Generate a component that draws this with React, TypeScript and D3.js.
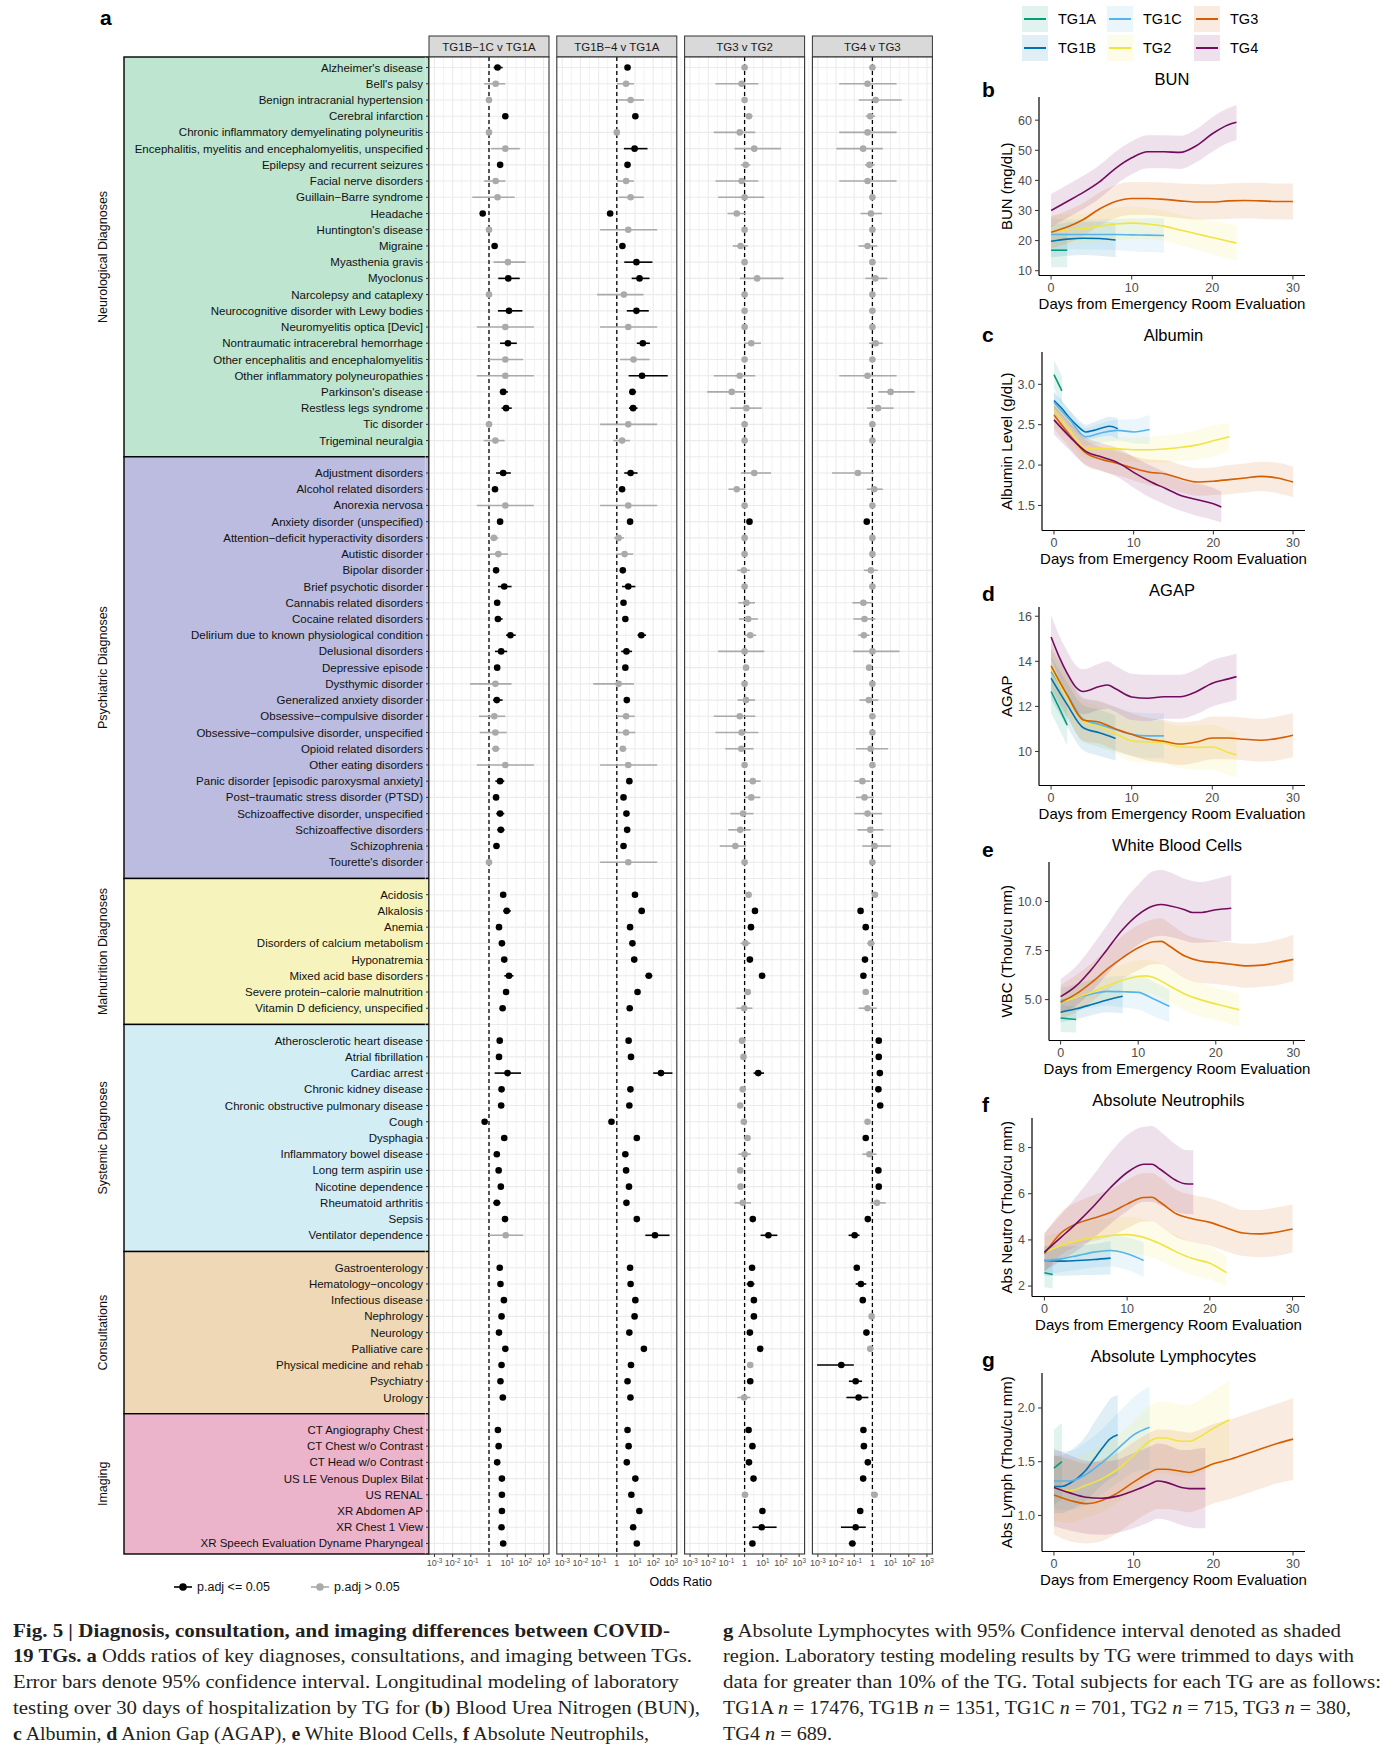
import * as d3 from 'd3';

const SANS = "'Liberation Sans', Arial, Helvetica, sans-serif";
const SERIF = "'Liberation Serif', 'Times New Roman', serif";

// ---------------- panel a: row labels per group ----------------
const neuroRows = [
  "Alzheimer's disease", "Bell's palsy", 'Benign intracranial hypertension', 'Cerebral infarction',
  'Chronic inflammatory demyelinating polyneuritis', 'Encephalitis, myelitis and encephalomyelitis, unspecified',
  'Epilepsy and recurrent seizures', 'Facial nerve disorders', 'Guillain−Barre syndrome', 'Headache',
  "Huntington's disease", 'Migraine', 'Myasthenia gravis', 'Myoclonus', 'Narcolepsy and cataplexy',
  'Neurocognitive disorder with Lewy bodies', 'Neuromyelitis optica [Devic]', 'Nontraumatic intracerebral hemorrhage',
  'Other encephalitis and encephalomyelitis', 'Other inflammatory polyneuropathies', "Parkinson's disease",
  'Restless legs syndrome', 'Tic disorder', 'Trigeminal neuralgia',
];
const psychRows = [
  'Adjustment disorders', 'Alcohol related disorders', 'Anorexia nervosa', 'Anxiety disorder (unspecified)',
  'Attention−deficit hyperactivity disorders', 'Autistic disorder', 'Bipolar disorder', 'Brief psychotic disorder',
  'Cannabis related disorders', 'Cocaine related disorders', 'Delirium due to known physiological condition',
  'Delusional disorders', 'Depressive episode', 'Dysthymic disorder', 'Generalized anxiety disorder',
  'Obsessive−compulsive disorder', 'Obsessive−compulsive disorder, unspecified', 'Opioid related disorders',
  'Other eating disorders', 'Panic disorder [episodic paroxysmal anxiety]', 'Post−traumatic stress disorder (PTSD)',
  'Schizoaffective disorder, unspecified', 'Schizoaffective disorders', 'Schizophrenia', "Tourette's disorder",
];
const malnutritionRows = [
  'Acidosis', 'Alkalosis', 'Anemia', 'Disorders of calcium metabolism', 'Hyponatremia',
  'Mixed acid base disorders', 'Severe protein−calorie malnutrition', 'Vitamin D deficiency, unspecified',
];
const systemicRows = [
  'Atherosclerotic heart disease', 'Atrial fibrillation', 'Cardiac arrest', 'Chronic kidney disease',
  'Chronic obstructive pulmonary disease', 'Cough', 'Dysphagia', 'Inflammatory bowel disease',
  'Long term aspirin use', 'Nicotine dependence', 'Rheumatoid arthritis', 'Sepsis', 'Ventilator dependence',
];
const consultRows = [
  'Gastroenterology', 'Hematology−oncology', 'Infectious disease', 'Nephrology', 'Neurology',
  'Palliative care', 'Physical medicine and rehab', 'Psychiatry', 'Urology',
];
const imagingRows = [
  'CT Angiography Chest', 'CT Chest w/o Contrast', 'CT Head w/o Contrast', 'US LE Venous Duplex Bilat',
  'US RENAL', 'XR Abdomen AP', 'XR Chest 1 View', 'XR Speech Evaluation Dyname Pharyngeal',
];

const groupNames = [
  'Neurological Diagnoses', 'Psychiatric Diagnoses', 'Malnutrition Diagnoses',
  'Systemic Diagnoses', 'Consultations', 'Imaging',
];
const groupFills = ['#bee5cf', '#bbbcdf', '#f6f4bc', '#d3edf5', '#eed8b5', '#ebb4cb'];
const groupRows = [neuroRows, psychRows, malnutritionRows, systemicRows, consultRows, imagingRows];

const comparisons = ['TG1B−1C v TG1A', 'TG1B−4 v TG1A', 'TG3 v TG2', 'TG4 v TG3'];

// odds ratio, CI low, CI high, significant (p.adj <= 0.05)
type OR = [number, number, number, number];

const orTG1BC: OR[] = [
  // neurological
  [2.95, 1.8, 5.6, 1], [2.34, 0.54, 7.9, 0], [1, 1, 1, 0], [7.9, 6, 10.5, 1], [1, 1, 1, 0],
  [7.9, 1.3, 49, 0], [4.1, 3.2, 5.2, 1], [2.34, 0.54, 7.9, 0], [2.95, 0.12, 25.7, 0], [0.45, 0.35, 0.58, 1],
  [1, 1, 1, 0], [2.04, 1.6, 2.6, 1], [11, 1.78, 105, 0], [11.5, 3.24, 49, 1], [1, 1, 1, 0],
  [12.6, 3.1, 69, 1], [7.9, 0.214, 295, 0], [11, 4.07, 33.9, 1], [7.9, 1, 76, 0], [7.9, 0.214, 295, 0],
  [6.03, 3.89, 11, 1], [8.7, 4.9, 17.8, 1], [1, 1, 1, 0], [2.24, 0.51, 7.24, 0],
  // psychiatric
  [6.03, 2.45, 15.8, 1], [2.14, 1.6, 2.8, 1], [7.9, 0.214, 295, 0], [4.07, 3.2, 5.2, 1], [1.86, 1.15, 3.24, 0],
  [3.24, 1.05, 11, 0], [2.45, 1.9, 3.1, 1], [6.9, 3.1, 17.4, 1], [2.82, 2.2, 3.6, 1], [3.1, 2.1, 5.6, 1],
  [15.1, 8.7, 29.5, 1], [4.68, 2.14, 10, 1], [2.82, 2.2, 3.6, 1], [2.24, 0.091, 17.4, 0], [2.69, 1.66, 5.6, 1],
  [1.95, 0.28, 7.9, 0], [2.24, 0.31, 9.5, 0], [2.34, 1.45, 3.89, 0], [7.9, 0.214, 295, 0], [4.07, 2.24, 6.9, 1],
  [2.45, 1.9, 3.1, 1], [4.07, 2.5, 6.9, 1], [4.47, 2.8, 7.2, 1], [2.57, 1.8, 3.7, 1], [1, 1, 1, 0],
  // malnutrition
  [6.03, 4.7, 7.7, 1], [9.5, 6, 15.8, 1], [3.55, 2.8, 4.5, 1], [5.13, 4, 6.6, 1], [6.9, 5.4, 8.9, 1],
  [12.6, 7, 22, 1], [8.7, 6.8, 11.2, 1], [5.6, 4.4, 7.2, 1],
  // systemic
  [3.89, 3, 5, 1], [3.55, 2.8, 4.5, 1], [10.5, 2.04, 57.5, 1], [4.9, 3.8, 6.3, 1], [4.68, 3.6, 6, 1],
  [0.575, 0.45, 0.74, 1], [6.9, 5.4, 8.9, 1], [2.69, 2.1, 3.45, 1], [3.39, 2.6, 4.3, 1], [4.47, 3.5, 5.7, 1],
  [2.69, 1.7, 4.3, 1], [7.6, 5.9, 9.7, 1], [8.3, 1, 76, 0],
  // consultations
  [3.89, 3, 5, 1], [4.27, 3.3, 5.5, 1], [6.6, 5.1, 8.5, 1], [4.9, 3.8, 6.3, 1], [3.55, 2.8, 4.5, 1],
  [7.9, 6.2, 10.2, 1], [4.9, 3.8, 6.3, 1], [4.27, 3.3, 5.5, 1], [5.75, 4, 8.3, 1],
  // imaging
  [3.09, 2.4, 4, 1], [3.39, 2.6, 4.3, 1], [2.82, 2.2, 3.6, 1], [5.13, 4, 6.6, 1], [5.13, 4, 6.6, 1],
  [5.13, 4, 6.6, 1], [4.9, 3.8, 6.3, 1], [6.03, 4.7, 7.7, 1],
];

const orTG1B4: OR[] = [
  // neurological
  [3.89, 2.9, 5.2, 1], [3.24, 1, 8.7, 0], [5.75, 1.26, 30.9, 0], [10.5, 8.2, 13.5, 1], [1, 1, 1, 0],
  [9.5, 2.45, 49, 1], [3.89, 3, 5, 1], [3.24, 1, 8.7, 0], [5.75, 1.26, 30.9, 0], [0.43, 0.34, 0.55, 1],
  [4.27, 0.12, 166, 0], [2.04, 1.6, 2.6, 1], [12, 2.57, 91, 1], [17.8, 6.6, 63, 1], [2.45, 0.083, 29.5, 0],
  [12, 3.55, 57.5, 1], [4.27, 0.12, 166, 0], [26.9, 12.6, 66, 1], [8.3, 1.51, 63, 0], [24.5, 4.47, 631, 1],
  [7.24, 4.68, 11.5, 1], [7.9, 4.68, 13.8, 1], [4.27, 0.12, 166, 0], [1.95, 0.63, 5.37, 0],
  // psychiatric
  [5.75, 2.57, 13.8, 1], [1.95, 1.5, 2.5, 1], [4.27, 0.12, 166, 0], [5.37, 4.2, 6.9, 1], [1.26, 0.72, 2.45, 0],
  [2.69, 0.91, 7.94, 0], [2.14, 1.7, 2.7, 1], [4.27, 1.95, 10.5, 1], [2.34, 1.8, 3, 1], [2.95, 2.3, 3.8, 1],
  [22.4, 13.8, 40.7, 1], [3.39, 1.74, 6.9, 1], [2.95, 2.3, 3.8, 1], [1.26, 0.051, 8.7, 0], [3.55, 2.7, 4.7, 1],
  [3.24, 1, 9.5, 0], [3.24, 1, 10.5, 0], [2.14, 1.45, 3.39, 0], [4.27, 0.12, 166, 0], [4.9, 3.8, 6.3, 1],
  [2.34, 1.8, 3, 1], [3.39, 2.6, 4.4, 1], [3.72, 2.9, 4.8, 1], [2.34, 1.8, 3, 1], [4.27, 0.12, 166, 0],
  // malnutrition
  [10, 7.8, 12.8, 1], [23.4, 16, 34, 1], [5.37, 4.2, 6.9, 1], [7.24, 5.6, 9.3, 1], [9.1, 7.1, 11.7, 1],
  [57.5, 37, 91, 1], [13.8, 10.7, 17.8, 1], [5.13, 4, 6.6, 1],
  // systemic
  [4.47, 3.5, 5.7, 1], [6.03, 4.7, 7.7, 1], [269, 100, 1150, 1], [5.62, 4.4, 7.2, 1], [4.9, 3.8, 6.3, 1],
  [0.51, 0.4, 0.66, 1], [12.6, 9.8, 16.2, 1], [2.95, 2.3, 3.8, 1], [3.24, 2.5, 4.2, 1], [4.68, 3.6, 6, 1],
  [3.39, 2.6, 4.4, 1], [12.6, 9.8, 16.2, 1], [126, 37, 794, 1],
  // consultations
  [5.37, 4.2, 6.9, 1], [5.75, 4.5, 7.4, 1], [10.5, 8.2, 13.5, 1], [9.5, 7.4, 12.2, 1], [4.9, 3.8, 6.3, 1],
  [30.9, 24, 40, 1], [6.03, 4.7, 7.7, 1], [3.89, 3, 5, 1], [5.62, 4.4, 7.2, 1],
  // imaging
  [3.89, 3, 5, 1], [4.47, 3.5, 5.7, 1], [3.55, 2.8, 4.5, 1], [10.5, 8.2, 13.5, 1], [6.31, 4.9, 8.1, 1],
  [17.4, 13.5, 22.4, 1], [7.94, 6.2, 10.2, 1], [12.6, 9.8, 16.2, 1],
];

const orTG3: OR[] = [
  // neurological
  [1, 1, 1, 0], [0.69, 0.025, 5.75, 0], [1, 1, 1, 0], [1.74, 1.1, 2.69, 0], [0.54, 0.02, 3.89, 0],
  [3.39, 0.28, 100, 0], [1.15, 0.63, 2.04, 0], [0.69, 0.025, 5.75, 0], [1, 0.035, 12, 0], [0.37, 0.115, 1.1, 0],
  [1, 1, 1, 0], [0.6, 0.224, 1.58, 0], [1, 1, 1, 0], [4.9, 0.56, 138, 0], [1, 1, 1, 0],
  [1, 1, 1, 0], [1, 1, 1, 0], [2.34, 0.95, 7.94, 0], [1, 1, 1, 0], [0.54, 0.02, 3.89, 0],
  [0.195, 0.0087, 1.1, 0], [1.26, 0.16, 8.7, 0], [1, 1, 1, 0], [1, 1, 1, 0],
  // psychiatric
  [3.39, 0.63, 28.2, 0], [0.37, 0.13, 1.1, 0], [1, 1, 1, 0], [1.86, 1.45, 2.4, 1], [1, 1, 1, 0],
  [1, 1, 1, 0], [0.91, 0.39, 1.95, 0], [1, 1, 1, 0], [1.26, 0.45, 3.72, 0], [1.58, 0.49, 5.37, 0],
  [2.04, 1, 4.27, 0], [1, 0.035, 12, 0], [1.2, 0.95, 1.5, 0], [1, 1, 1, 0], [1.2, 0.41, 3.72, 0],
  [0.54, 0.02, 3.89, 0], [0.69, 0.025, 5.75, 0], [0.66, 0.087, 3.09, 0], [1, 1, 1, 0], [2.82, 1.1, 7.59, 0],
  [2.34, 1, 7.24, 0], [0.83, 0.166, 3.09, 0], [0.575, 0.126, 2.14, 0], [0.31, 0.043, 1.2, 0], [1, 1, 1, 0],
  // malnutrition
  [1.66, 1.3, 2.1, 0], [3.72, 2.9, 4.8, 1], [2.24, 1.75, 2.9, 1], [1.1, 0.6, 2.1, 0], [1.95, 1.5, 2.5, 1],
  [9.12, 6.2, 13.5, 1], [1.51, 1.15, 2, 0], [0.95, 0.355, 2.69, 0],
  // systemic
  [0.72, 0.56, 0.93, 0], [0.87, 0.68, 1.12, 0], [5.62, 3.09, 11.5, 1], [0.79, 0.62, 1.02, 0], [0.575, 0.45, 0.74, 0],
  [0.91, 0.71, 1.17, 0], [1.45, 1.13, 1.86, 0], [1, 0.45, 2.2, 0], [0.575, 0.45, 0.74, 0], [0.6, 0.47, 0.77, 0],
  [0.79, 0.28, 2.24, 0], [2.82, 2.2, 3.6, 1], [20.4, 7.59, 63, 1],
  // consultations
  [2.57, 2, 3.3, 1], [2.14, 1.3, 3.5, 1], [3.24, 2.5, 4.2, 1], [3.24, 2.5, 4.2, 1], [1.95, 1.5, 2.5, 1],
  [7.24, 5.6, 9.3, 1], [2.04, 1.6, 2.6, 0], [2.04, 1.5, 2.8, 1], [0.95, 0.4, 2.1, 0],
  // imaging
  [1.66, 1.3, 2.1, 1], [2.69, 2, 3.6, 1], [1.74, 1.35, 2.2, 1], [3.09, 2.4, 4, 1], [1.05, 0.8, 1.35, 0],
  [9.55, 7.4, 12.3, 1], [8.71, 2.69, 57.5, 1], [2.69, 2.1, 3.45, 1],
];

const orTG4: OR[] = [
  // neurological
  [1, 1, 1, 0], [0.54, 0.015, 21.4, 0], [1.51, 0.178, 40.7, 0], [0.76, 0.43, 1.38, 0], [0.54, 0.015, 21.4, 0],
  [0.31, 0.0105, 3.72, 0], [0.69, 0.39, 1.32, 0], [0.54, 0.015, 21.4, 0], [1, 1, 1, 0], [0.83, 0.224, 3.39, 0],
  [1, 1, 1, 0], [0.54, 0.174, 1.86, 0], [1, 1, 1, 0], [1.45, 0.41, 6.61, 0], [1, 1, 1, 0],
  [1, 1, 1, 0], [1, 1, 1, 0], [1.51, 0.66, 3.72, 0], [1, 1, 1, 0], [0.54, 0.015, 21.4, 0],
  [10, 2.14, 214, 0], [2.04, 0.51, 14.5, 0], [1, 1, 1, 0], [1, 1, 1, 0],
  // psychiatric
  [0.16, 0.006, 1.2, 0], [1.26, 0.49, 3.72, 0], [1, 1, 1, 0], [0.49, 0.4, 0.6, 1], [1, 1, 1, 0],
  [1, 1, 1, 0], [0.83, 0.34, 1.95, 0], [1, 1, 1, 0], [0.32, 0.079, 1, 0], [0.37, 0.091, 1.45, 0],
  [0.34, 0.166, 0.69, 0], [1, 0.087, 30.9, 0], [0.66, 0.5, 0.87, 0], [1, 1, 1, 0], [0.63, 0.195, 2.14, 0],
  [1, 1, 1, 0], [1, 1, 1, 0], [0.79, 0.126, 7.24, 0], [1, 1, 1, 0], [0.28, 0.1, 0.76, 0],
  [0.37, 0.126, 1.2, 0], [0.54, 0.1, 3.39, 0], [0.76, 0.15, 4.07, 0], [1.32, 0.28, 10.5, 0], [1, 1, 1, 0],
  // malnutrition
  [1.38, 1.08, 1.77, 0], [0.224, 0.17, 0.29, 1], [0.43, 0.33, 0.55, 1], [0.83, 0.52, 1.35, 0], [0.39, 0.3, 0.5, 1],
  [0.32, 0.24, 0.43, 1], [0.43, 0.33, 0.55, 0], [0.54, 0.178, 1.74, 0],
  // systemic
  [2.24, 1.75, 2.9, 1], [2.24, 1.75, 2.9, 1], [2.57, 2, 3.3, 1], [2.14, 1.67, 2.75, 1], [2.69, 2, 3.6, 1],
  [0.54, 0.42, 0.69, 0], [0.43, 0.33, 0.55, 1], [0.69, 0.28, 1.7, 0], [2.14, 1.67, 2.75, 1], [2.24, 1.75, 2.9, 1],
  [1.78, 0.76, 5.37, 0], [0.56, 0.44, 0.72, 1], [0.105, 0.049, 0.195, 1],
  // consultations
  [0.138, 0.1, 0.19, 1], [0.234, 0.12, 0.46, 1], [0.295, 0.23, 0.38, 1], [0.91, 0.71, 1.17, 0], [0.47, 0.37, 0.6, 1],
  [0.76, 0.59, 0.98, 0], [0.0195, 0.00091, 0.095, 1], [0.12, 0.051, 0.27, 1], [0.174, 0.037, 0.6, 1],
  // imaging
  [0.32, 0.25, 0.41, 1], [0.34, 0.24, 0.48, 1], [0.56, 0.44, 0.72, 1], [0.31, 0.24, 0.4, 1], [1.32, 1, 1.75, 0],
  [0.214, 0.17, 0.27, 1], [0.12, 0.0186, 0.43, 1], [0.079, 0.05, 0.12, 1],
];

const comparisonData = [orTG1BC, orTG1B4, orTG3, orTG4];

// ---------------- panels b-g: day, fit, ribbon low, ribbon high ----------------
type Pt = [number, number, number, number];

const bunTG1A: Pt[] = [[0, 16.8, 11.1, 22.5], [2, 16.8, 11.1, 22.5]];
const bunTG1B: Pt[] = [[0, 19.8, 14.5, 25], [2, 20.5, 15, 26], [4, 20.8, 15.2, 26.3], [6, 20.7, 15, 26.3], [8, 20.2, 14.5, 26]];
const bunTG1C: Pt[] = [[0, 22, 16.5, 27.5], [2, 22, 17, 27], [4, 22, 17, 27], [6, 22, 17, 27], [8, 22, 16.8, 27.2], [10, 21.9, 16.5, 27.3], [12, 21.8, 16.2, 27.4], [14, 21.7, 16, 27.5]];
const bunTG2: Pt[] = [[0, 23, 17.5, 28.5], [2, 23.6, 18.5, 28.7], [4, 24, 19, 29], [6, 24.8, 19.5, 30], [8, 25.5, 20, 31], [10, 25.8, 20.5, 31.3], [12, 25.5, 20.5, 30.8], [14, 24.8, 20, 30], [16, 23.5, 18.5, 28.7], [18, 22.3, 17, 27.5], [20, 21, 15.5, 26.5], [22, 19.8, 14, 25.5], [23, 19.2, 13.2, 25.2]];
const bunTG3: Pt[] = [[0, 22.8, 17.5, 28], [2, 24.5, 19, 30], [4, 27, 21.5, 32.5], [6, 30.5, 25, 36], [8, 33, 27.5, 38.5], [10, 34, 28.5, 39.5], [12, 34, 28.5, 39.5], [14, 33.7, 28, 39.3], [16, 33.2, 27.5, 39], [18, 32.8, 27, 38.8], [20, 32.8, 27, 38.7], [22, 33.2, 27.2, 39], [24, 33.3, 27.3, 39.2], [26, 33.2, 27.2, 39.2], [28, 33, 27, 39], [30, 33, 27, 39]];
const bunTG4: Pt[] = [[0, 30, 24.5, 35.5], [2, 33, 27.5, 38.5], [4, 36, 30.5, 41.5], [6, 39.5, 34, 45], [8, 44, 38.5, 49.5], [10, 47.5, 42, 53], [12, 49.5, 44, 55], [14, 49.5, 44, 55], [16, 49.3, 43.8, 54.8], [18, 51.5, 46, 57], [20, 55.5, 49.5, 61], [22, 58.5, 52.5, 64], [23, 59.3, 53.3, 65]];

const albTG1A: Pt[] = [[0, 3.12, 2.95, 3.3], [1, 2.92, 2.75, 3.1]];
const albTG1B: Pt[] = [[0, 2.8, 2.7, 2.9], [1, 2.7, 2.61, 2.79], [2, 2.58, 2.49, 2.67], [3, 2.48, 2.39, 2.57], [4, 2.41, 2.32, 2.5], [5, 2.43, 2.33, 2.53], [6, 2.46, 2.35, 2.57], [7, 2.48, 2.36, 2.6], [8, 2.45, 2.32, 2.58]];
const albTG1C: Pt[] = [[0, 2.78, 2.64, 2.92], [2, 2.56, 2.44, 2.68], [4, 2.35, 2.24, 2.46], [6, 2.4, 2.28, 2.52], [8, 2.43, 2.3, 2.56], [10, 2.41, 2.27, 2.57], [12, 2.44, 2.26, 2.62]];
const albTG2: Pt[] = [[0, 2.69, 2.55, 2.83], [2, 2.43, 2.3, 2.56], [4, 2.21, 2.08, 2.34], [6, 2.2, 2.06, 2.34], [8, 2.2, 2.05, 2.35], [10, 2.19, 2.04, 2.34], [12, 2.19, 2.03, 2.35], [14, 2.2, 2.03, 2.37], [16, 2.22, 2.05, 2.39], [18, 2.25, 2.07, 2.43], [20, 2.3, 2.11, 2.49], [22, 2.35, 2.18, 2.52]];
const albTG3: Pt[] = [[0, 2.62, 2.45, 2.79], [2, 2.37, 2.21, 2.53], [4, 2.15, 1.99, 2.31], [6, 2.07, 1.92, 2.22], [8, 2.02, 1.87, 2.17], [10, 1.96, 1.81, 2.11], [12, 1.91, 1.75, 2.07], [14, 1.89, 1.72, 2.06], [16, 1.83, 1.66, 2.0], [18, 1.79, 1.62, 1.96], [20, 1.8, 1.63, 1.97], [22, 1.82, 1.64, 2.0], [24, 1.84, 1.66, 2.02], [26, 1.86, 1.68, 2.04], [28, 1.84, 1.65, 2.03], [30, 1.79, 1.6, 1.98]];
const albTG4: Pt[] = [[0, 2.56, 2.38, 2.74], [2, 2.35, 2.18, 2.52], [4, 2.17, 2, 2.34], [6, 2.1, 1.93, 2.27], [8, 2.03, 1.85, 2.21], [10, 1.91, 1.72, 2.1], [12, 1.8, 1.6, 2], [14, 1.71, 1.51, 1.91], [16, 1.62, 1.43, 1.81], [18, 1.57, 1.37, 1.77], [20, 1.52, 1.32, 1.72], [21, 1.48, 1.29, 1.67]];

const agapTG1A: Pt[] = [[0, 12.66, 11.7, 13.6], [1, 11.93, 11, 12.9], [2, 11.17, 10.25, 12.1]];
const agapTG1B: Pt[] = [[0, 13.25, 12.3, 14.2], [2, 12.08, 11.1, 13.05], [4, 11.05, 10.05, 12.05], [6, 10.83, 9.8, 11.85], [8, 10.58, 9.6, 11.6]];
const agapTG1C: Pt[] = [[0, 13.54, 12.6, 14.5], [2, 12.52, 11.5, 13.5], [4, 11.42, 10.45, 12.4], [6, 11.2, 10.2, 12.2], [8, 10.98, 10, 12], [10, 10.76, 9.8, 11.75], [12, 10.69, 9.7, 11.7], [14, 10.69, 9.7, 11.7]];
const agapTG2: Pt[] = [[0, 13.7, 12.8, 14.6], [2, 12.4, 11.5, 13.3], [4, 11.35, 10.45, 12.25], [6, 11.1, 10.2, 12], [8, 10.8, 9.9, 11.7], [10, 10.47, 9.55, 11.4], [12, 10.42, 9.5, 11.35], [14, 10.38, 9.45, 11.3], [16, 10.2, 9.25, 11.15], [18, 10.18, 9.2, 11.15], [20, 10.2, 9.2, 11.2], [22, 9.95, 8.95, 10.95], [23, 9.85, 8.85, 10.85]];
const agapTG3: Pt[] = [[0, 13.8, 12.8, 14.8], [2, 12.5, 11.55, 13.45], [4, 11.4, 10.45, 12.35], [6, 11.3, 10.35, 12.25], [8, 11, 10.05, 11.95], [10, 10.76, 9.8, 11.7], [12, 10.55, 9.6, 11.5], [14, 10.45, 9.5, 11.4], [16, 10.33, 9.4, 11.3], [18, 10.42, 9.5, 11.35], [20, 10.6, 9.65, 11.55], [22, 10.6, 9.65, 11.55], [24, 10.54, 9.6, 11.5], [26, 10.5, 9.55, 11.45], [28, 10.57, 9.6, 11.55], [30, 10.72, 9.75, 11.7]];
const agapTG4: Pt[] = [[0, 15.08, 14.1, 16.05], [1, 14.2, 13.25, 15.15], [2, 13.47, 12.5, 14.45], [3, 12.88, 11.9, 13.85], [4, 12.66, 11.65, 13.65], [6, 12.88, 11.85, 13.9], [7, 12.95, 11.9, 14], [8, 12.78, 11.75, 13.8], [10, 12.42, 11.4, 13.45], [12, 12.36, 11.35, 13.4], [14, 12.43, 11.45, 13.4], [16, 12.43, 11.45, 13.4], [18, 12.65, 11.65, 13.65], [20, 13.03, 12, 14.05], [22, 13.22, 12.2, 14.25], [23, 13.32, 12.3, 14.35]];

const wbcTG1A: Pt[] = [[0, 4.06, 3.35, 4.7], [2, 3.99, 3.33, 4.65]];
const wbcTG1B: Pt[] = [[0, 4.36, 3.85, 4.9], [2, 4.53, 4, 5.05], [4, 4.75, 4.2, 5.3], [6, 4.98, 4.35, 5.6], [8, 5.17, 4.3, 6]];
const wbcTG1C: Pt[] = [[0, 4.95, 4.3, 5.6], [2, 5.12, 4.45, 5.8], [4, 5.29, 4.6, 6], [6, 5.42, 4.7, 6.15], [8, 5.4, 4.6, 6.2], [10, 5.37, 4.5, 6.25], [12, 5.03, 4.15, 5.9], [14, 4.66, 3.85, 5.5]];
const wbcTG2: Pt[] = [[0, 4.87, 4.3, 5.45], [2, 5.12, 4.5, 5.75], [4, 5.37, 4.7, 6.05], [6, 5.71, 5, 6.45], [8, 5.99, 5.2, 6.8], [10, 6.18, 5.35, 7], [11, 6.21, 5.35, 7.05], [12, 6.13, 5.25, 7], [14, 5.71, 4.85, 6.6], [16, 5.29, 4.45, 6.15], [18, 5, 4.15, 5.85], [20, 4.78, 3.95, 5.6], [22, 4.58, 3.75, 5.4], [23, 4.48, 3.65, 5.3]];
const wbcTG3: Pt[] = [[0, 4.87, 4, 5.75], [2, 5.29, 4.35, 6.25], [4, 5.88, 4.9, 6.85], [6, 6.55, 5.5, 7.6], [8, 7.14, 6.05, 8.25], [10, 7.64, 6.5, 8.8], [12, 7.95, 6.8, 9.1], [13, 7.97, 6.8, 9.15], [14, 7.73, 6.6, 8.9], [16, 7.22, 6.1, 8.35], [18, 6.97, 5.85, 8.1], [20, 6.89, 5.8, 8], [22, 6.8, 5.7, 7.9], [24, 6.72, 5.6, 7.85], [26, 6.76, 5.65, 7.9], [28, 6.89, 5.75, 8.05], [30, 7.05, 5.95, 8.3]];
const wbcTG4: Pt[] = [[0, 5.15, 4.3, 6.05], [2, 5.7, 4.7, 6.7], [4, 6.55, 5.4, 7.7], [6, 7.56, 6.3, 8.8], [8, 8.57, 7.15, 9.95], [10, 9.33, 7.8, 10.85], [12, 9.78, 8.2, 11.55], [13, 9.85, 8.25, 11.6], [14, 9.78, 8.2, 11.5], [16, 9.58, 8, 11.15], [17, 9.44, 7.9, 11.05], [18, 9.44, 7.9, 11], [20, 9.58, 7.95, 11.15], [22, 9.66, 8, 11.35]];

const neuTG1A: Pt[] = [[0, 2.58, 1.95, 3.15], [1, 2.5, 1.9, 3.05]];
const neuTG1B: Pt[] = [[0, 3.11, 2.45, 3.75], [2, 3.08, 2.45, 3.7], [4, 3.11, 2.47, 3.75], [6, 3.15, 2.48, 3.82], [8, 3.21, 2.5, 3.95]];
const neuTG1C: Pt[] = [[0, 3.11, 2.5, 3.7], [2, 3.18, 2.6, 3.8], [4, 3.32, 2.7, 3.95], [6, 3.47, 2.8, 4.1], [8, 3.54, 2.85, 4.2], [10, 3.4, 2.7, 4.1], [12, 3.11, 2.4, 3.9]];
const neuTG2: Pt[] = [[0, 3.47, 2.85, 4.1], [2, 3.76, 3.1, 4.4], [4, 3.97, 3.25, 4.65], [6, 4.11, 3.35, 4.85], [8, 4.19, 3.4, 4.95], [10, 4.23, 3.45, 5], [12, 4.11, 3.35, 4.9], [14, 3.83, 3.1, 4.6], [16, 3.47, 2.75, 4.2], [18, 3.18, 2.45, 3.9], [20, 2.99, 2.3, 3.7], [22, 2.58, 1.98, 3.3]];
const neuTG3: Pt[] = [[0, 3.4, 2.6, 4.25], [2, 4.3, 3.35, 5.2], [4, 4.72, 3.75, 5.65], [6, 4.95, 3.95, 5.95], [8, 5.19, 4.15, 6.2], [10, 5.55, 4.5, 6.6], [12, 5.84, 4.8, 6.9], [13, 5.85, 4.8, 6.9], [14, 5.63, 4.6, 6.7], [16, 5.12, 4.1, 6.15], [18, 4.91, 3.9, 5.95], [20, 4.76, 3.75, 5.8], [22, 4.52, 3.5, 5.55], [24, 4.3, 3.3, 5.3], [26, 4.26, 3.25, 5.3], [28, 4.33, 3.3, 5.4], [30, 4.47, 3.45, 5.55]];
const neuTG4: Pt[] = [[0, 3.47, 2.65, 4.3], [2, 4.11, 3.1, 5.1], [4, 4.76, 3.55, 5.95], [6, 5.48, 4.1, 6.85], [8, 6.27, 4.7, 7.8], [10, 6.92, 5.25, 8.55], [12, 7.28, 5.65, 8.9], [13, 7.28, 5.65, 8.93], [14, 7.06, 5.5, 8.7], [16, 6.56, 5.2, 8.1], [17, 6.43, 5.12, 7.9], [18, 6.42, 5.1, 7.88]];

const lymTG1A: Pt[] = [[0, 1.44, 1.1, 1.8], [1, 1.5, 1.15, 1.86]];
const lymTG1B: Pt[] = [[0, 1.27, 1.02, 1.55], [1, 1.27, 1.02, 1.56], [2, 1.3, 1.05, 1.6], [3, 1.35, 1.09, 1.66], [4, 1.42, 1.14, 1.74], [5, 1.52, 1.21, 1.86], [6, 1.62, 1.28, 1.97], [7, 1.71, 1.34, 2.08], [8, 1.75, 1.38, 2.12]];
const lymTG1C: Pt[] = [[0, 1.32, 1.06, 1.6], [2, 1.32, 1.05, 1.6], [4, 1.38, 1.1, 1.68], [6, 1.49, 1.2, 1.8], [8, 1.62, 1.3, 1.95], [10, 1.75, 1.4, 2.1], [12, 1.82, 1.43, 2.2]];
const lymTG2: Pt[] = [[0, 1.26, 0.95, 1.57], [2, 1.23, 0.93, 1.53], [4, 1.28, 0.98, 1.58], [6, 1.34, 1.03, 1.65], [8, 1.43, 1.12, 1.75], [10, 1.56, 1.24, 1.88], [12, 1.69, 1.36, 2.02], [13, 1.72, 1.39, 2.06], [14, 1.72, 1.39, 2.06], [16, 1.69, 1.36, 2.03], [17, 1.69, 1.36, 2.03], [18, 1.72, 1.38, 2.06], [20, 1.81, 1.46, 2.16], [22, 1.89, 1.54, 2.25]];
const lymTG3: Pt[] = [[0, 1.19, 0.82, 1.56], [2, 1.14, 0.76, 1.52], [4, 1.11, 0.74, 1.48], [6, 1.14, 0.76, 1.52], [8, 1.21, 0.84, 1.58], [10, 1.31, 0.94, 1.68], [12, 1.4, 1.03, 1.77], [13, 1.43, 1.06, 1.8], [14, 1.43, 1.06, 1.8], [16, 1.41, 1.04, 1.78], [17, 1.4, 1.03, 1.77], [18, 1.42, 1.05, 1.79], [20, 1.48, 1.11, 1.85], [22, 1.52, 1.15, 1.89], [24, 1.57, 1.2, 1.94], [26, 1.62, 1.25, 1.99], [28, 1.67, 1.3, 2.04], [30, 1.71, 1.33, 2.09]];
const lymTG4: Pt[] = [[0, 1.26, 0.9, 1.62], [2, 1.21, 0.86, 1.56], [4, 1.17, 0.83, 1.51], [6, 1.16, 0.82, 1.5], [8, 1.18, 0.84, 1.52], [10, 1.23, 0.88, 1.58], [12, 1.29, 0.94, 1.64], [13, 1.32, 0.97, 1.67], [14, 1.31, 0.96, 1.66], [16, 1.26, 0.91, 1.61], [17, 1.25, 0.89, 1.61], [18, 1.25, 0.88, 1.62], [19, 1.25, 0.88, 1.63]];

const tgNames = ['TG1A', 'TG1B', 'TG1C', 'TG2', 'TG3', 'TG4'];
const tgColors = ['#009E73', '#0072B2', '#56B4E9', '#F0E442', '#D55E00', '#730C5F'];

const labPanels = [
  { letter: 'b', title: 'BUN', ylab: 'BUN (mg/dL)', ticks: [10, 20, 30, 40, 50, 60], fmt: d3.format('d'),
    series: [bunTG1A, bunTG1B, bunTG1C, bunTG2, bunTG3, bunTG4], x0: 1039, top: 97, letterY: 97, titleY: 85 },
  { letter: 'c', title: 'Albumin', ylab: 'Albumin Level (g/dL)', ticks: [1.5, 2, 2.5, 3], fmt: d3.format('.1f'),
    series: [albTG1A, albTG1B, albTG1C, albTG2, albTG3, albTG4], x0: 1042, top: 352, letterY: 342, titleY: 341 },
  { letter: 'd', title: 'AGAP', ylab: 'AGAP', ticks: [10, 12, 14, 16], fmt: d3.format('d'),
    series: [agapTG1A, agapTG1B, agapTG1C, agapTG2, agapTG3, agapTG4], x0: 1039, top: 607, letterY: 601, titleY: 596 },
  { letter: 'e', title: 'White Blood Cells', ylab: 'WBC (Thou/cu mm)', ticks: [5, 7.5, 10], fmt: d3.format('.1f'),
    series: [wbcTG1A, wbcTG1B, wbcTG1C, wbcTG2, wbcTG3, wbcTG4], x0: 1049, top: 862, letterY: 857, titleY: 851 },
  { letter: 'f', title: 'Absolute Neutrophils', ylab: 'Abs Neutro (Thou/cu mm)', ticks: [2, 4, 6, 8], fmt: d3.format('d'),
    series: [neuTG1A, neuTG1B, neuTG1C, neuTG2, neuTG3, neuTG4], x0: 1032, top: 1118, letterY: 1112, titleY: 1106 },
  { letter: 'g', title: 'Absolute Lymphocytes', ylab: 'Abs Lymph (Thou/cu mm)', ticks: [1, 1.5, 2], fmt: d3.format('.1f'),
    series: [lymTG1A, lymTG1B, lymTG1C, lymTG2, lymTG3, lymTG4], x0: 1042, top: 1373, letterY: 1367, titleY: 1362 },
];

// ---------------- layout ----------------
const PANEL_X = [429, 556.8, 684.6, 812.4];
const PANEL_W = 120;
const STRIP_TOP = 36;
const PT = 57;
const PB = 1554;
const RECT_LEFT = 124;
const LAB_X1 = 1305;
const LAB_H = 178.5;

function Forest() {
  const rows: { label: string; key: string; g: number; gap: boolean }[] = [];
  groupRows.forEach((labels, gi) => {
    labels.forEach((label, ri) => rows.push({ label, key: `${gi}-${ri}`, g: gi, gap: false }));
    if (gi < groupRows.length - 1) rows.push({ label: '', key: `gap${gi}`, g: gi, gap: true });
  });
  const dataRows = rows.filter((r) => !r.gap);

  const y = d3.scalePoint<string>().domain(rows.map((r) => r.key)).range([PT, PB]).padding(0.65);
  const x = d3.scaleLog().domain([10 ** -3.3, 10 ** 3.3]).range([0, PANEL_W]);
  const majors = d3.range(-3, 4).map((k) => 10 ** k);
  const minors = d3.range(-3.5, 3.5, 1).map((k) => 10 ** k);

  const bounds = groupRows.map((_, gi) => {
    const top = gi === 0 ? PT : y(`gap${gi - 1}`)!;
    const bottom = gi === groupRows.length - 1 ? PB : y(`gap${gi}`)!;
    return { top, bottom };
  });

  return (
    <g fontFamily={SANS}>
      <text x={100} y={25} fontSize={21} fontWeight="bold">a</text>

      {/* group bands */}
      {bounds.map((b, gi) => (
        <g key={gi}>
          <rect x={RECT_LEFT} y={b.top} width={PANEL_X[0] - RECT_LEFT} height={b.bottom - b.top}
            fill={groupFills[gi]} stroke="#000" strokeWidth={1.4} />
          <text transform={`translate(107,${(b.top + b.bottom) / 2}) rotate(-90)`} textAnchor="middle"
            fontSize={12.5} fill="#111">{groupNames[gi]}</text>
        </g>
      ))}

      {/* row labels */}
      {dataRows.map((r) => (
        <g key={r.key}>
          <text x={PANEL_X[0] - 6} y={y(r.key)!} dy="0.35em" textAnchor="end" fontSize={11.5} fill="#111">{r.label}</text>
          <line x1={PANEL_X[0] - 3} x2={PANEL_X[0]} y1={y(r.key)!} y2={y(r.key)!} stroke="#333" strokeWidth={1} />
        </g>
      ))}

      {comparisons.map((name, pi) => {
        const px = PANEL_X[pi];
        const values = comparisonData[pi];
        return (
          <g key={name} transform={`translate(${px},0)`}>
            <rect x={0} y={STRIP_TOP} width={PANEL_W} height={PT - STRIP_TOP} fill="#d9d9d9" stroke="#333" strokeWidth={1} />
            <text x={PANEL_W / 2} y={(STRIP_TOP + PT) / 2} dy="0.36em" textAnchor="middle" fontSize={11.5} fill="#1a1a1a">{name}</text>
            <rect x={0} y={PT} width={PANEL_W} height={PB - PT} fill="#fff" />
            {minors.map((m) => (
              <line key={`mn${m}`} x1={x(m)} x2={x(m)} y1={PT} y2={PB} stroke="#ebebeb" strokeWidth={0.6} />
            ))}
            {majors.map((m) => (
              <line key={`mj${m}`} x1={x(m)} x2={x(m)} y1={PT} y2={PB} stroke="#ebebeb" strokeWidth={1.1} />
            ))}
            {rows.map((r) => (
              <line key={r.key} x1={0} x2={PANEL_W} y1={y(r.key)!} y2={y(r.key)!} stroke="#ebebeb" strokeWidth={1.1} />
            ))}
            <line x1={x(1)} x2={x(1)} y1={PT} y2={PB} stroke="#000" strokeWidth={1.3} strokeDasharray="4,3" />
            {dataRows.map((r, i) => {
              const [est, lo, hi, sig] = values[i];
              const col = sig ? '#000' : '#aaaaaa';
              const yy = y(r.key)!;
              return (
                <g key={r.key}>
                  <line x1={x(lo)} x2={x(hi)} y1={yy} y2={yy} stroke={col} strokeWidth={1.6} />
                  <circle cx={x(est)} cy={yy} r={3.3} fill={col} />
                </g>
              );
            })}
            <rect x={0} y={PT} width={PANEL_W} height={PB - PT} fill="none" stroke="#333" strokeWidth={1.1} />
            {majors.map((m, k) => (
              <g key={`t${m}`}>
                <line x1={x(m)} x2={x(m)} y1={PB} y2={PB + 3} stroke="#333" strokeWidth={1} />
                <text x={x(m)} y={PB + 12} textAnchor="middle" fontSize={9} fill="#4d4d4d">
                  {k - 3 === 0 ? '1' : (<>10<tspan dy={-3.5} fontSize={6.3}>{k - 3}</tspan></>)}
                </text>
              </g>
            ))}
          </g>
        );
      })}

      <text x={(PANEL_X[0] + PANEL_X[3] + PANEL_W) / 2} y={1586} textAnchor="middle" fontSize={12.5}>Odds Ratio</text>

      {/* legend */}
      {[{ c: '#000', t: 'p.adj <= 0.05', x: 174 }, { c: '#aaaaaa', t: 'p.adj > 0.05', x: 311 }].map((l) => (
        <g key={l.t} transform={`translate(${l.x},1587)`}>
          <line x1={0} x2={18} y1={0} y2={0} stroke={l.c} strokeWidth={1.6} />
          <circle cx={9} cy={0} r={3.8} fill={l.c} />
          <text x={23} y={0} dy="0.35em" fontSize={12.5} fill="#111">{l.t}</text>
        </g>
      ))}
    </g>
  );
}

function LabPanel({ p }: { p: (typeof labPanels)[number] }) {
  const bottom = p.top + LAB_H;
  const all = p.series.flat();
  const lo = d3.min(all, (d) => d[2])!;
  const hi = d3.max(all, (d) => d[3])!;
  const pad = (hi - lo) * 0.05;
  const x = d3.scaleLinear().domain([-1.5, 31.5]).range([p.x0, LAB_X1]);
  const y = d3.scaleLinear().domain([lo - pad, hi + pad]).range([bottom, p.top]);
  const area = d3.area<Pt>().x((d) => x(d[0])).y0((d) => y(d[2])).y1((d) => y(d[3])).curve(d3.curveMonotoneX);
  const line = d3.line<Pt>().x((d) => x(d[0])).y((d) => y(d[1])).curve(d3.curveMonotoneX);
  const cx = (p.x0 + LAB_X1) / 2;

  return (
    <g fontFamily={SANS}>
      <text x={982} y={p.letterY} fontSize={21} fontWeight="bold">{p.letter}</text>
      <text x={cx} y={p.titleY} textAnchor="middle" fontSize={16.5}>{p.title}</text>
      {p.series.map((s, i) => (
        <path key={`a${i}`} d={area(s)!} fill={tgColors[i]} fillOpacity={0.12} />
      ))}
      {p.series.map((s, i) => (
        <path key={`l${i}`} d={line(s)!} fill="none" stroke={tgColors[i]} strokeWidth={1.6} />
      ))}
      <line x1={p.x0} x2={p.x0} y1={p.top} y2={bottom} stroke="#000" strokeWidth={1.2} />
      <line x1={p.x0} x2={LAB_X1} y1={bottom} y2={bottom} stroke="#000" strokeWidth={1.2} />
      {p.ticks.map((t) => (
        <g key={t}>
          <line x1={p.x0 - 4} x2={p.x0} y1={y(t)} y2={y(t)} stroke="#333" strokeWidth={1} />
          <text x={p.x0 - 7} y={y(t)} dy="0.35em" textAnchor="end" fontSize={12.5} fill="#4d4d4d">{p.fmt(t)}</text>
        </g>
      ))}
      {[0, 10, 20, 30].map((t) => (
        <g key={t}>
          <line x1={x(t)} x2={x(t)} y1={bottom} y2={bottom + 4} stroke="#333" strokeWidth={1} />
          <text x={x(t)} y={bottom + 16.5} textAnchor="middle" fontSize={12.5} fill="#4d4d4d">{t}</text>
        </g>
      ))}
      <text x={cx} y={bottom + 33.5} textAnchor="middle" fontSize={15}>Days from Emergency Room Evaluation</text>
      <text transform={`translate(1007,${(p.top + bottom) / 2}) rotate(-90)`} textAnchor="middle" dy="0.35em" fontSize={15}>{p.ylab}</text>
    </g>
  );
}

function LabLegend() {
  const colX = [1022, 1107, 1194];
  const rowY = [6, 35];
  return (
    <g fontFamily={SANS}>
      {tgNames.map((name, i) => {
        const kx = colX[Math.floor(i / 2)];
        const ky = rowY[i % 2];
        return (
          <g key={name}>
            <rect x={kx} y={ky} width={26} height={26} fill={tgColors[i]} fillOpacity={0.12} />
            <line x1={kx + 2} x2={kx + 24} y1={ky + 13} y2={ky + 13} stroke={tgColors[i]} strokeWidth={2} />
            <text x={kx + 36} y={ky + 13} dy="0.36em" fontSize={14.5}>{name}</text>
          </g>
        );
      })}
    </g>
  );
}

type Seg = { t: string; b?: boolean; i?: boolean };
const captionLeft: Seg[][] = [
  [{ t: 'Fig. 5 | Diagnosis, consultation, and imaging differences between COVID-', b: true }],
  [{ t: '19 TGs.', b: true }, { t: ' ' }, { t: 'a', b: true }, { t: ' Odds ratios of key diagnoses, consultations, and imaging between TGs.' }],
  [{ t: 'Error bars denote 95% confidence interval. Longitudinal modeling of laboratory' }],
  [{ t: 'testing over 30 days of hospitalization by TG for (' }, { t: 'b', b: true }, { t: ') Blood Urea Nitrogen (BUN),' }],
  [{ t: 'c', b: true }, { t: ' Albumin, ' }, { t: 'd', b: true }, { t: ' Anion Gap (AGAP), ' }, { t: 'e', b: true }, { t: ' White Blood Cells, ' }, { t: 'f', b: true }, { t: ' Absolute Neutrophils,' }],
];
const captionRight: Seg[][] = [
  [{ t: 'g', b: true }, { t: ' Absolute Lymphocytes with 95% Confidence interval denoted as shaded' }],
  [{ t: 'region. Laboratory testing modeling results by TG were trimmed to days with' }],
  [{ t: 'data for greater than 10% of the TG. Total subjects for each TG are as follows:' }],
  [{ t: 'TG1A ' }, { t: 'n', i: true }, { t: ' = 17476, TG1B ' }, { t: 'n', i: true }, { t: ' = 1351, TG1C ' }, { t: 'n', i: true }, { t: ' = 701, TG2 ' }, { t: 'n', i: true }, { t: ' = 715, TG3 ' }, { t: 'n', i: true }, { t: ' = 380,' }],
  [{ t: 'TG4 ' }, { t: 'n', i: true }, { t: ' = 689.' }],
];
const captionLeftWidths = [657, 679, 666, 687, 636];
const captionRightWidths = [618, 631, 658, 628, 109];
const captionBaselines = [1637, 1662, 1688, 1714, 1740];

function Caption() {
  const col = (lines: Seg[][], widths: number[], x0: number) =>
    lines.map((segs, li) => (
      <text key={li} x={x0} y={captionBaselines[li]} fontSize={19} fill="#231f20"
        textLength={widths[li]} lengthAdjust="spacingAndGlyphs">
        {segs.map((s, si) => (
          <tspan key={si} fontWeight={s.b ? 'bold' : 'normal'} fontStyle={s.i ? 'italic' : 'normal'}>{s.t}</tspan>
        ))}
      </text>
    ));
  return (
    <g fontFamily={SERIF}>
      {col(captionLeft, captionLeftWidths, 13)}
      {col(captionRight, captionRightWidths, 723)}
    </g>
  );
}

export default function App() {
  return (
    <svg width={1390} height={1754} viewBox="0 0 1390 1754"
      style={{ position: 'absolute', left: 0, top: 0, background: '#fff' }}>
      <rect width={1390} height={1754} fill="#fff" />
      <Forest />
      <LabLegend />
      {labPanels.map((p) => <LabPanel key={p.letter} p={p} />)}
      <Caption />
    </svg>
  );
}
